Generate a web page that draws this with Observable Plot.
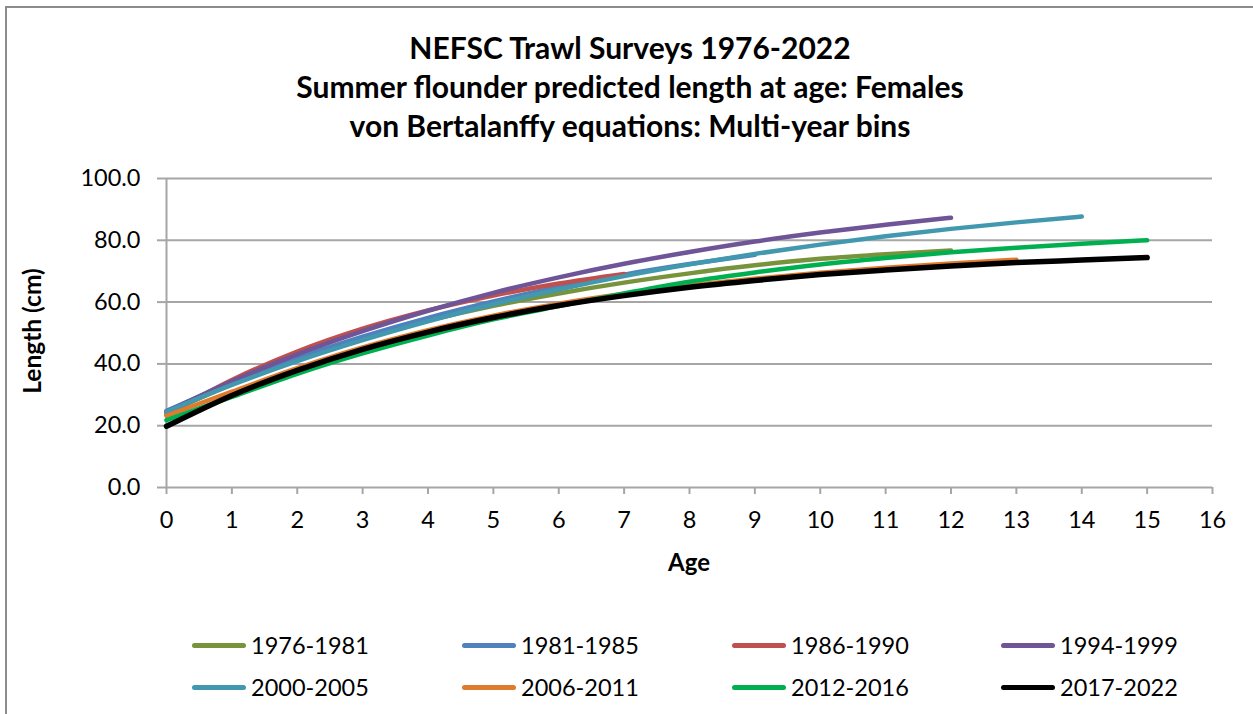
<!DOCTYPE html>
<html>
<head>
<meta charset="utf-8">
<script src="https://cdn.jsdelivr.net/npm/d3@7"></script>
<script src="https://cdn.jsdelivr.net/npm/@observablehq/plot@0.6"></script>
<style>
  html, body { margin: 0; padding: 0; background: #fff; }
  #wrap { position: relative; width: 1253px; height: 714px; overflow: hidden; font-family: Lato, "Open Sans", sans-serif; color: #000; }
  #border { position: absolute; left: 5px; top: 6px; width: 1260px; height: 800px; border-left: 2px solid #8c8c8c; border-top: 2px solid #8c8c8c; box-sizing: border-box; }
  #title { position: absolute; left: 0; width: 1260px; top: 28px; text-align: center; font-weight: bold; font-size: 30px; line-height: 39px; }
  #plot { position: absolute; left: 0; top: 140px; }
  #ylab { position: absolute; left: 31px; top: 331px; transform: translate(-50%, -50%) rotate(-90deg); font-weight: bold; font-size: 24.5px; white-space: nowrap; }
  #xlab { position: absolute; left: 689px; top: 561px; transform: translate(-50%, -50%); font-weight: bold; font-size: 24px; }
  .leg { position: absolute; display: flex; align-items: center; font-size: 23.5px; white-space: nowrap; }
  .leg .sw { width: 54px; height: 5px; border-radius: 3px; margin-right: 5px; }
</style>
</head>
<body>
<div id="wrap">
  <div id="border"></div>
  <div id="title">NEFSC Trawl Surveys 1976-2022<br>Summer flounder predicted length at age: Females<br>von Bertalanffy equations: Multi-year bins</div>
  <div id="plot"></div>
  <div id="ylab">Length (cm)</div>
  <div id="xlab">Age</div>
  <div id="legend"></div>
</div>
<script>
// ---- data ----
const seriesNames = ["1976-1981", "1981-1985", "1986-1990", "1994-1999", "2000-2005", "2006-2011", "2012-2016", "2017-2022"];
const seriesColors = ["#77933C", "#4F81BD", "#C0504D", "#6F5497", "#4198AF", "#E07B2E", "#00B050", "#000000"];

const len1976 = [24.0, 33.4, 41.6, 48.4, 54.0, 58.8, 62.8, 66.3, 69.3, 71.9, 74.0, 75.5, 76.7];
const len1981 = [24.8, 33.9, 41.9, 48.8, 54.9, 60.2, 64.9, 68.9, 72.3, 75.3];
const len1986 = [23.5, 34.8, 44.0, 51.4, 57.3, 62.1, 66.0, 69.1];
const len1994 = [24.5, 34.4, 43.1, 50.6, 57.2, 63.0, 68.0, 72.4, 76.2, 79.6, 82.5, 85.0, 87.3];
const len2000 = [24.5, 33.2, 40.9, 47.7, 53.8, 59.3, 64.1, 68.4, 72.2, 75.6, 78.6, 81.3, 83.7, 85.8, 87.7];
const len2006 = [23.2, 31.0, 38.6, 45.3, 50.9, 55.6, 59.5, 62.7, 65.4, 67.6, 69.5, 71.1, 72.5, 73.7];
const len2012 = [21.8, 29.3, 36.8, 43.4, 49.2, 54.4, 58.7, 62.8, 66.6, 69.6, 72.2, 74.3, 76.1, 77.6, 78.9, 80.0];
const len2017 = [19.8, 29.8, 37.9, 44.7, 50.3, 55.0, 58.9, 62.1, 64.8, 67.0, 68.9, 70.4, 71.7, 72.8, 73.6, 74.4];

const yTicks = [0, 20, 40, 60, 80, 100];
const xTicks = d3.range(0, 17);

const seriesValues = [len1976, len1981, len1986, len1994, len2000, len2006, len2012, len2017];
const table = [];
seriesValues.forEach((vals, i) => vals.forEach((v, age) => table.push({series: seriesNames[i], order: i, age, length: v})));

const grid = "#a6a6a6";
const chart = Plot.plot({
  width: 1253,
  height: 440,
  marginLeft: 166,
  marginRight: 41,
  marginTop: 38,
  marginBottom: 93,
  style: {fontFamily: "Lato, 'Open Sans', sans-serif", fontSize: "23.5px", color: "#000", background: "transparent"},
  x: {domain: [0, 16], label: null},
  y: {domain: [0, 100], label: null},
  color: {domain: seriesNames, range: seriesColors},
  marks: [
    Plot.ruleY(yTicks, {stroke: grid, strokeWidth: 2}),
    Plot.ruleX([0], {y1: 0, y2: 100, stroke: grid, strokeWidth: 2}),
    Plot.axisX({ticks: xTicks, tickSize: 7, tickPadding: 17, stroke: grid, strokeWidth: 2, tickFormat: d => String(d), fill: "#000", label: null}),
    Plot.axisY({ticks: yTicks, tickSize: 9, tickPadding: 17, stroke: grid, strokeWidth: 2, tickFormat: d3.format(".1f"), fill: "#000", label: null}),
    ...seriesNames.map((name, i) => Plot.line(table.filter(d => d.series === name), {
      x: "age", y: "length", stroke: "series", curve: "monotone-x",
      strokeWidth: name === "2017-2022" ? 5.5 : 4.5, strokeLinecap: "round", strokeLinejoin: "round"
    }))
  ]
});
chart.querySelectorAll("text").forEach(t => t.setAttribute("fill", "#000"));
document.getElementById("plot").appendChild(chart);

// legend (2 rows x 4 columns)
const legend = document.getElementById("legend");
const colX = [192, 462, 732, 1001];
const rowY = [645, 687];
seriesNames.forEach((name, i) => {
  const el = document.createElement("div");
  el.className = "leg";
  el.style.left = colX[i % 4] + "px";
  el.style.top = (rowY[Math.floor(i / 4)] - 14) + "px";
  el.style.height = "28px";
  el.innerHTML = `<span class="sw" style="background:${seriesColors[i]}"></span><span>${name}</span>`;
  legend.appendChild(el);
});
</script>
</body>
</html>
